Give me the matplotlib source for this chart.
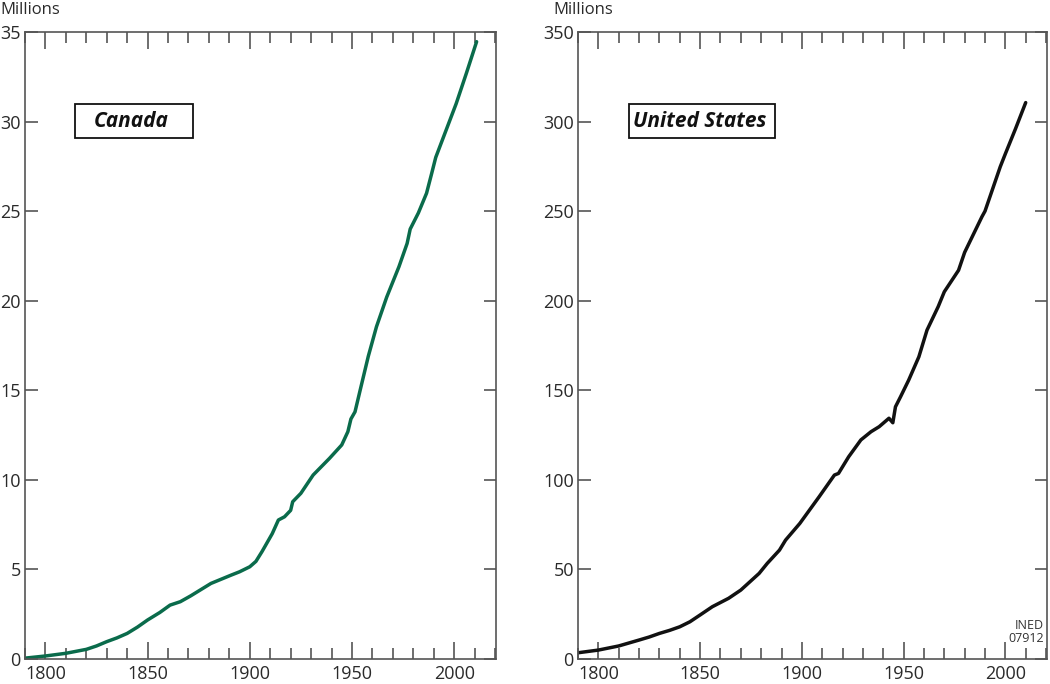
import matplotlib
matplotlib.use('Agg')
import matplotlib.pyplot as plt
from matplotlib.patches import Rectangle
from matplotlib.ticker import MultipleLocator

# ── data (millions) ─────────────────────────────────────────────────────────
ca_years = [1790, 1800, 1810, 1820, 1825, 1830, 1835, 1840, 1845, 1850, 1856, 1861,
            1866, 1871, 1881, 1891, 1895, 1900, 1903, 1906, 1908, 1911, 1914, 1917,
            1920, 1921, 1925, 1931, 1939, 1945, 1948, 1949.5, 1951.5, 1954, 1958,
            1962, 1967, 1973, 1977, 1978.5, 1982.5, 1986.5, 1989, 1991, 1996, 1999,
            2001, 2006, 2011]
ca_pop = [0.05, 0.17, 0.32, 0.54, 0.73, 0.97, 1.18, 1.43, 1.78, 2.18, 2.6, 3.01,
          3.2, 3.52, 4.22, 4.69, 4.87, 5.15, 5.45, 6.0, 6.4, 7.0, 7.76, 7.94,
          8.3, 8.78, 9.25, 10.27, 11.2, 11.95, 12.69, 13.4, 13.8, 15.0, 16.9,
          18.55, 20.2, 21.9, 23.2, 24.0, 24.9, 26.0, 27.1, 28.0, 29.5, 30.4,
          31.0, 32.7, 34.46]

us_years = [1790, 1800, 1810, 1820, 1825, 1830, 1835, 1840, 1845, 1850, 1856, 1864,
            1870, 1879, 1883, 1889, 1892, 1899, 1908.5, 1916, 1918, 1923, 1929,
            1934, 1938, 1942.8, 1944.7, 1946, 1948.5, 1952.5, 1957.5, 1961.5, 1967,
            1970, 1977, 1980, 1988.5, 1990, 1997.5, 2000, 2005, 2010]
us_pop = [3.5, 5.0, 7.3, 10.6, 12.3, 14.3, 16.0, 18.0, 20.8, 24.6, 29.2, 33.9,
          38.5, 47.8, 53.4, 60.8, 66.4, 75.7, 90.6, 102.7, 103.6, 112.9, 122.3,
          126.9, 129.7, 134.4, 131.9, 140.8, 146.4, 155.7, 168.7, 183.6, 196.7,
          205.0, 217.0, 227.0, 246.9, 250.0, 274.8, 282.0, 296.0, 310.6]

# name, years, values, colour, ymax, ystep, box (x0, x1), text x
panels = [
    ('Canada', ca_years, ca_pop, '#0a6b4b', 35, 5, (0.106, 0.357), 0.146),
    ('United States', us_years, us_pop, '#111111', 350, 50, (0.108, 0.420), 0.117),
]

plt.rcParams['font.family'] = ['Open Sans', 'DejaVu Sans']
spine_col = '#555555'
text_col = '#2a2a2a'

fig = plt.figure(figsize=(10.5, 6.84), dpi=100)
positions = [[0.0238, 0.0365, 0.4486, 0.9167], [0.5505, 0.0365, 0.4467, 0.9167]]

for pos, (name, yrs, vals, col, ymax, ystep, bx, tx) in zip(positions, panels):
    ax = fig.add_axes(pos)
    ax.plot(yrs, vals, color=col, lw=2.5, solid_capstyle='round', solid_joinstyle='round')
    ax.set_xlim(1790, 2020.5)
    ax.set_ylim(0, ymax)

    ax.xaxis.set_major_locator(MultipleLocator(50))
    ax.xaxis.set_minor_locator(MultipleLocator(10))
    ax.yaxis.set_major_locator(MultipleLocator(ystep))
    ax.tick_params(axis='x', which='major', direction='in', top=True, bottom=True,
                   length=12, width=1.2, color=spine_col, labelsize=13,
                   labelcolor=text_col, pad=4)
    ax.tick_params(axis='x', which='minor', direction='in', top=True, bottom=True,
                   length=8, width=1.2, color=spine_col)
    ax.tick_params(axis='y', which='major', direction='in', left=True, right=True,
                   length=9, width=1.2, color=spine_col, labelsize=13,
                   labelcolor=text_col, pad=3)
    for s in ax.spines.values():
        s.set_color(spine_col)
        s.set_linewidth(1.2)

    ax.text(-0.053, 1.022, 'Millions', transform=ax.transAxes, fontsize=12,
            color=text_col, ha='left', va='bottom')
    ax.add_patch(Rectangle((bx[0], 0.831), bx[1] - bx[0], 0.054, transform=ax.transAxes,
                           fc='white', ec='#111111', lw=1.3, zorder=3))
    ax.text(tx, 0.858, name, transform=ax.transAxes, fontsize=15,
            fontweight='bold', fontstyle='italic', color='#111111',
            ha='left', va='center', zorder=4)

ax.text(0.994, 0.022, 'INED\n07912', transform=ax.transAxes, fontsize=9,
        color='#333333', ha='right', va='bottom', linespacing=1.0)

fig.savefig('out.png', dpi=100)
